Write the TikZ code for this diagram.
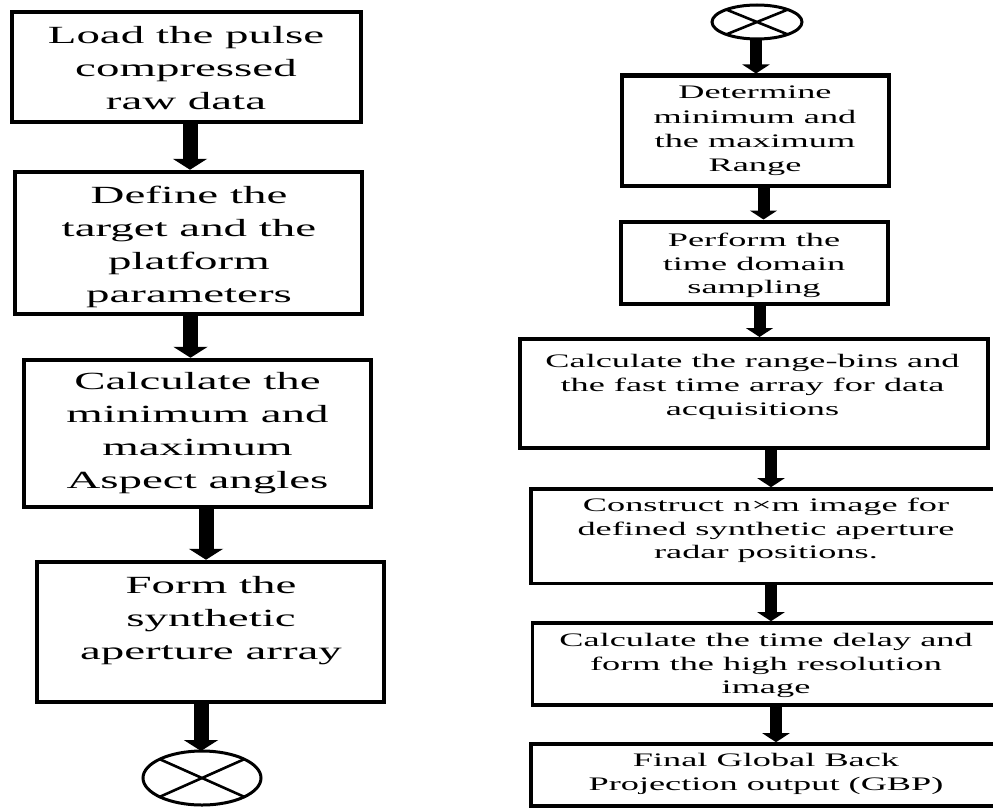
\documentclass[tikz,border=0pt]{standalone}
\usepackage{fontspec}
\setmainfont{Liberation Serif}[FakeStretch=1.9]
\usetikzlibrary{arrows.meta,shapes.geometric}
\tikzset{
  lbox/.style={draw=black, line width=4.5pt, inner sep=0pt, rectangle},
  rbox/.style={draw=black, line width=4pt, inner sep=0pt, rectangle},
  ltxt/.style={inner sep=0pt, align=center, font=\fontsize{24.7}{33}\selectfont},
  rtxt/.style={inner sep=0pt, align=center, font=\fontsize{19.1}{23.5}\selectfont},
  ell/.style={draw=black, line width=3pt, ellipse, inner sep=0pt, outer sep=0pt},
  xline/.style={draw=black, line width=2.6pt},
  larr/.style={draw=black, line width=15pt, -{Triangle[width=34pt,length=11pt]}},
  rarr/.style={draw=black, line width=12pt, -{Triangle[width=27pt,length=9pt]}}
}
\begin{document}
\begin{tikzpicture}[x=1pt,y=-1pt]
\useasboundingbox (0,0) rectangle (993,808);
\fill[white] (0,0) rectangle (993,808);
\begin{scope}
\clip (0,0) rectangle (993,808);

% left column
\node[lbox, minimum width=349pt, minimum height=110pt] (L1) at (186.5,67) {};
\node[lbox, minimum width=347pt, minimum height=142pt] (L2) at (188.5,243) {};
\node[lbox, minimum width=347pt, minimum height=147pt] (L3) at (197.5,433.5) {};
\node[lbox, minimum width=347pt, minimum height=140pt] (L4) at (210.5,632) {};
\node[ell, minimum width=118pt, minimum height=54pt] (C1) at (202,778) {};

\node[ltxt] (L1t) at (186,68.5) {Load the pulse\\compressed\\raw data};
\node[ltxt] (L2t) at (189,246.8) {Define the\\target and the\\platform\\parameters};
\node[ltxt] (L3t) at (197.5,433.3) {Calculate the\\minimum and\\maximum\\Aspect angles};
\node[ltxt] (L4t) at (211,620.7) {Form the\\synthetic\\aperture array};

\draw[xline] (C1.24) -- (C1.204) (C1.156) -- (C1.336);

\draw[larr] ([xshift=3.5pt]L1.south) -- ([xshift=1.5pt]L2.north);
\draw[larr] ([xshift=2pt]L2.south) -- ([xshift=-7pt]L3.north);
\draw[larr] ([xshift=8.5pt]L3.south) -- ([xshift=-4.5pt]L4.north);
\draw[larr] ([xshift=-9.5pt]L4.south) -- ([xshift=-1pt]C1.north);

% right column
\node[ell, minimum width=90pt, minimum height=34pt] (C2) at (757,22) {};
\draw[xline] (C2.22) -- (C2.202) (C2.158) -- (C2.338);

\node[rbox, minimum width=267pt, minimum height=110pt] (R1) at (755,130.5) {};
\node[rbox, minimum width=267pt, minimum height=82.5pt] (R2) at (754,262.75) {};
\node[rbox, minimum width=468.5pt, minimum height=109pt] (R3) at (753.75,393.5) {};
\node[rbox, line width=3.6pt, minimum width=499pt, minimum height=94.5pt] (R4) at (780.5,536.25) {};
\node[rbox, line width=3.6pt, minimum width=497.5pt, minimum height=82pt] (R5) at (781.25,664) {};
\node[rbox, line width=3.6pt, minimum width=499pt, minimum height=62pt] (R6) at (780.5,775) {};

\node[rtxt, font=\fontsize{19.1}{24.3}\selectfont] (R1t) at (755,131) {Determine\\minimum and\\the maximum\\Range};
\node[rtxt] (R2t) at (754,265.6) {Perform the\\time domain\\sampling};
\node[rtxt, font=\fontsize{19.1}{24}\selectfont] (R3t) at (752.5,386.6) {Calculate the range-bins and\\the fast time array for data\\acquisitions};
\node[rtxt] (R4t) at (766,530.6) {Construct n×m image for\\defined synthetic aperture\\radar positions.};
\node[rtxt] (R5t) at (766,665.6) {Calculate the time delay and\\form the high resolution\\image};
\node[rtxt] (R6t) at (766,774) {Final Global Back\\Projection output (GBP)};

\draw[rarr] ([xshift=-1pt]C2.south) -- ([xshift=1pt]R1.north);
\draw[rarr] ([xshift=8.5pt]R1.south) -- ([xshift=9.5pt]R2.north);
\draw[rarr] ([xshift=5.5pt]R2.south) -- ([xshift=5.75pt]R3.north);
\draw[rarr] ([xshift=17.25pt]R3.south) -- ([xshift=-9.5pt]R4.north);
\draw[rarr] ([xshift=-9.5pt]R4.south) -- ([xshift=-10.25pt]R5.north);
\draw[rarr] ([xshift=-5.25pt]R5.south) -- ([xshift=-4.5pt]R6.north);
\end{scope}
\end{tikzpicture}
\end{document}
